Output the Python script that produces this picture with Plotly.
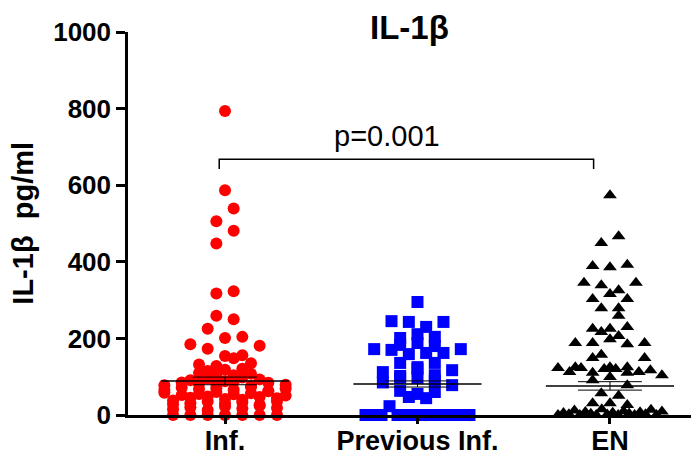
import bisect
import plotly.graph_objects as go

# ---------------- data ----------------
categories = ["Inf.", "Previous Inf.", "EN"]

inf_values = [794, 587, 539, 506, 481, 448,
              317, 323, 259, 250, 225, 201, 204, 185, 173, 154, 156, 181,
              132, 128, 148, 135,
              115, 118, 121, 110, 102, 104, 108,
              91, 95, 88, 98, 93,
              78, 85, 82, 80, 87, 76, 84, 79,
              65, 72, 68, 70, 66, 73, 63, 69,
              58, 52, 55, 60, 54, 57, 62, 51,
              38, 45, 48, 42, 40, 47, 44,
              28, 31, 35, 30, 33, 27, 36,
              15, 20, 13, 22, 17, 24, 18,
              0, 0, 0, 0, 0, 0, 0]

prev_values = [295, 245, 243, 230, 243, 201, 211, 204, 183, 188, 180,
               172, 170, 159, 162, 162, 172, 136, 125, 136,
               112, 102, 120, 104, 117, 85, 97, 97, 91, 78,
               63, 55, 60, 47, 44,
               0, 0, 0, 23, 0, 0, 0, 0, 0, 0, 0, 0, 0, 0]

en_values = [574, 467, 449, 389, 386, 392, 345, 339, 326, 345,
             303, 316, 303, 279, 279, 259, 225, 225, 230, 217, 206,
             188, 188, 198, 185, 188, 157, 125, 149, 125, 125, 149,
             123, 112, 123, 110, 120, 120, 110, 112, 117, 104,
             91, 99, 78, 57, 50, 31, 31, 26,
             0, 5, 2, 12, 0, 8, 3, 0, 15, 1, 6, 0, 10, 4, 0, 7, 2, 14, 0, 9]

means = [89, 81, 76]
sems = [10, 8, 11]

y_ticks = [0, 200, 400, 600, 800, 1000]
title_text = "<b>IL-1β</b>"
y_title = "<b>IL-1β\u00a0 pg/ml</b>"
p_text = "p=0.001"
bracket_x = [-0.03, 1.915]
bracket_y = [642, 668]
p_pos = [0.84, 728]


# ---------------- column-scatter layout (Prism-like rows) ----------------
def swarm(values, center, edges, step=0.09, maxw=0.54, near=45.0):
    bins = {}
    for i, v in enumerate(values):
        bins.setdefault(bisect.bisect_right(edges, v) - 1, []).append(i)
    xs = [0.0] * len(values)
    singles = []
    for idx in bins.values():
        n = len(idx)
        if n == 1:
            singles.append(idx[0])
        s = step if n < 2 else min(step, maxw / (n - 1))
        for k, i in enumerate(idx):
            xs[i] = center + (k - (n - 1) / 2.0) * s
    # isolated points that sit close to a neighbour are nudged left/right alternately
    sign = 1
    for i in sorted(singles, key=lambda j: -values[j]):
        if any(abs(values[i] - values[j]) < near for j in range(len(values)) if j != i):
            xs[i] = center + sign * step / 2.0
            sign = -sign
    return xs


red_edges = [k * 12.5 for k in range(11)] + [150, 190, 230] + list(range(275, 1050, 25))
std_edges = list(range(0, 1050, 25))

groups = [
    (inf_values, "#FF0000", "circle", 12, 0.63, red_edges),
    (prev_values, "#0000FF", "square", 12, 0.54, std_edges),
    (en_values, "#000000", "triangle-up", 12, 0.54, std_edges),
]

fig = go.Figure()

for gi, (vals, col, sym, size, mw, edges) in enumerate(groups):
    fig.add_trace(go.Scatter(
        x=swarm(vals, gi, edges, maxw=mw), y=vals, mode="markers",
        marker=dict(color=col, symbol=sym, size=size, line=dict(width=0)),
        cliponaxis=False, showlegend=False, hoverinfo="y"))

# mean lines and SEM bars
for gi, (m, s) in enumerate(zip(means, sems)):
    fig.add_trace(go.Scatter(x=[gi - 0.333, gi + 0.333], y=[m, m], mode="lines",
                             line=dict(color="black", width=1.5),
                             showlegend=False, hoverinfo="skip"))
    for yy in (m - s, m + s):
        fig.add_trace(go.Scatter(x=[gi - 0.166, gi + 0.166], y=[yy, yy], mode="lines",
                                 line=dict(color="black", width=1),
                                 showlegend=False, hoverinfo="skip"))
    fig.add_trace(go.Scatter(x=[gi, gi], y=[m - s, m + s], mode="lines",
                             line=dict(color="black", width=1),
                             showlegend=False, hoverinfo="skip"))

# significance bracket
fig.add_trace(go.Scatter(
    x=[bracket_x[0], bracket_x[0], bracket_x[1], bracket_x[1]],
    y=[bracket_y[0], bracket_y[1], bracket_y[1], bracket_y[0]],
    mode="lines", line=dict(color="black", width=1.5),
    showlegend=False, hoverinfo="skip", cliponaxis=False))

fig.add_annotation(x=p_pos[0], y=p_pos[1], xref="x", yref="y", text=p_text,
                   showarrow=False, font=dict(family="Arial, Liberation Sans", size=29, color="black"),
                   xanchor="center", yanchor="middle")

fig.add_annotation(x=0.5, y=1.013, xref="paper", yref="paper", text=title_text,
                   showarrow=False, font=dict(family="Arial, Liberation Sans", size=33, color="black"),
                   xanchor="center", yanchor="middle")

fig.add_annotation(x=-0.188, y=0.5, xref="paper", yref="paper", text=y_title,
                   textangle=-90, showarrow=False,
                   font=dict(family="Arial, Liberation Sans", size=29, color="black"),
                   xanchor="center", yanchor="middle")

fig.update_layout(
    width=696, height=456,
    margin=dict(l=128, r=5, t=32, b=41),
    paper_bgcolor="white", plot_bgcolor="white",
    font=dict(family="Arial, Liberation Sans", color="black"),
    xaxis=dict(range=[-0.504, 2.421], tickmode="array", tickvals=[0, 1, 2],
               ticktext=["<b>%s</b>" % c for c in categories],
               showgrid=False, zeroline=False, showline=True, linecolor="black",
               linewidth=2.5, ticks="outside", ticklen=6, tickwidth=2.5, tickcolor="black",
               tickfont=dict(size=27, color="black"), automargin=False,
               ticklabelstandoff=-6),
    yaxis=dict(range=[0, 1000], tickmode="array", tickvals=y_ticks,
               ticktext=["<b>%d</b>" % t for t in y_ticks],
               showgrid=False, zeroline=False, showline=True, linecolor="black",
               linewidth=2.5, ticks="outside", ticklen=9, tickwidth=2.5, tickcolor="black",
               tickfont=dict(size=26, color="black"), automargin=False),
)

fig.write_html("out.html")
